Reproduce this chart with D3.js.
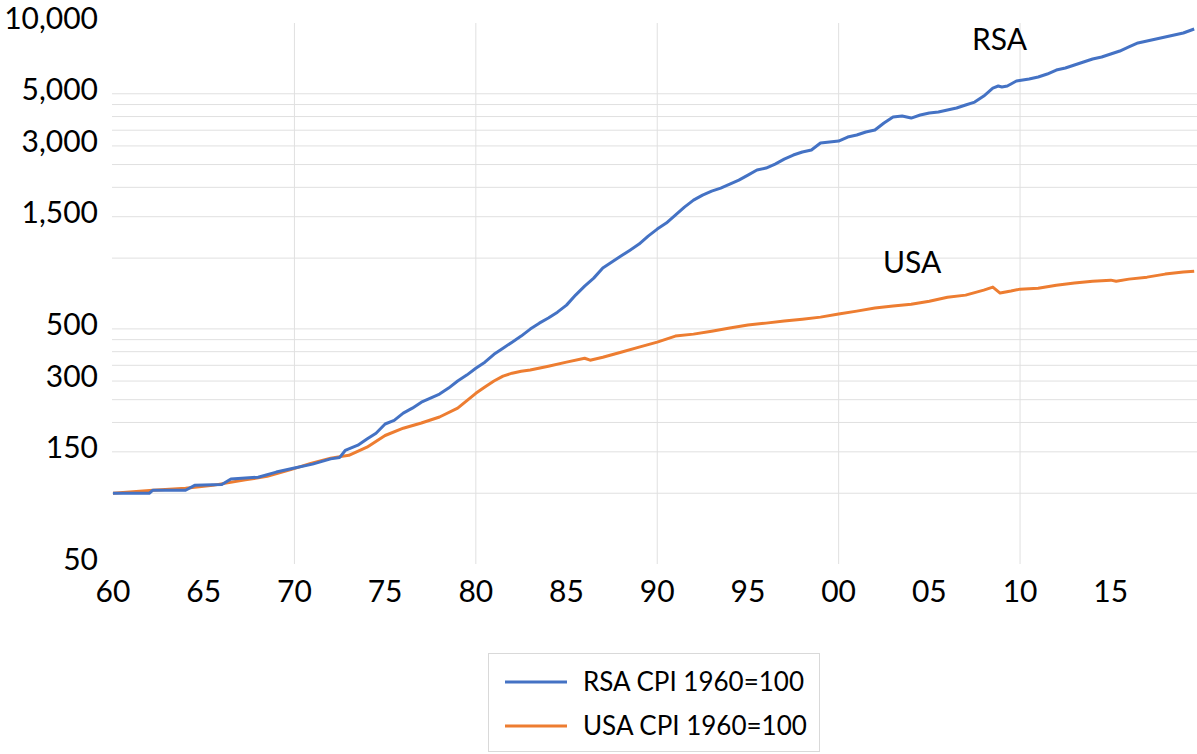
<!DOCTYPE html>
<html>
<head>
<meta charset="utf-8">
<script src="https://d3js.org/d3.v7.min.js"></script>
<style>
  body { margin: 0px; background: #fff; }
  text { font-family: Lato, "Open Sans", sans-serif; fill: #000; }
  .grid line { stroke: #e0e0e0; stroke-width: 1; }
</style>
</head>
<body>
<div id="chart"></div>
<script>
// RSA CPI (1960=100)
const rsaYears = [1960, 1962, 1962.2, 1964, 1964.5, 1966, 1966.5, 1968, 1969, 1970, 1971, 1972, 1972.5, 1972.8,
  1973.5, 1974, 1974.5, 1975, 1975.5, 1976, 1976.5, 1977, 1977.5, 1978, 1978.5, 1979, 1979.5, 1980, 1980.5,
  1981, 1981.5, 1982, 1982.5, 1983, 1983.5, 1984, 1984.5, 1985, 1985.5, 1986, 1986.5, 1987, 1987.5, 1988,
  1988.5, 1989, 1989.5, 1990, 1990.5, 1991, 1991.5, 1992, 1992.5, 1993, 1993.5, 1994, 1994.5, 1995, 1995.5,
  1996, 1996.5, 1997, 1997.5, 1998, 1998.5, 1999, 1999.5, 2000, 2000.5, 2001, 2001.5, 2002, 2002.5, 2003,
  2003.5, 2004, 2004.5, 2005, 2005.5, 2006, 2006.5, 2007, 2007.5, 2008, 2008.5, 2008.8, 2009, 2009.3, 2009.8,
  2010.5, 2011, 2011.5, 2012, 2012.5, 2013, 2013.5, 2014, 2014.5, 2015, 2015.5, 2016, 2016.5, 2017, 2017.5,
  2018, 2018.5, 2019, 2019.6];
const rsaValues = [100, 100, 103, 103, 108, 109, 115, 117, 123, 128, 133, 140, 142, 152,
  160, 170, 180, 197, 204, 219, 230, 244, 254, 264, 280, 300, 318, 340, 361,
  390, 414, 439, 466, 499, 529, 556, 589, 631, 696, 760, 822, 907, 962, 1020,
  1081, 1147, 1241, 1329, 1409, 1524, 1648, 1765, 1854, 1928, 1986, 2065, 2147, 2255, 2369,
  2415, 2512, 2638, 2744, 2826, 2883, 3086, 3116, 3147, 3273, 3338, 3438, 3506, 3754, 3981,
  4020, 3942, 4060, 4140, 4180, 4265, 4350, 4480, 4610, 4892, 5289, 5394, 5342, 5394, 5664,
  5776, 5893, 6067, 6310, 6436, 6628, 6823, 7028, 7168, 7379, 7600, 7906, 8222, 8383, 8550,
  8720, 8892, 9067, 9430];

// USA CPI (1960=100)
const usaYears = [1960, 1962.2, 1964, 1965.5, 1967.3, 1968.5, 1969.8, 1970.9, 1972, 1973, 1974, 1975, 1976,
  1977, 1978, 1979, 1980, 1980.5, 1981, 1981.5, 1982, 1982.5, 1983, 1984, 1985, 1986, 1986.3, 1987, 1988,
  1989, 1990, 1991, 1992, 1993, 1994, 1995, 1996, 1997, 1998, 1999, 2000, 2001, 2002, 2003, 2004, 2005,
  2006, 2007, 2008, 2008.5, 2008.9, 2009.5, 2010, 2011, 2012, 2013, 2014, 2015, 2015.3, 2016, 2017, 2018,
  2019, 2019.6];
const usaValues = [100, 103, 105, 108, 114, 118, 126, 134, 141, 145, 157, 176, 189,
  199, 211, 230, 266, 283, 300, 315, 324, 330, 334, 347, 361, 375, 368, 379, 398,
  418, 439, 466, 475, 489, 504, 519, 529, 540, 550, 561, 578, 595, 613, 625, 637, 656,
  682, 696, 731, 753, 710, 724, 738, 745, 767, 783, 798, 806, 798, 814, 830, 855,
  872, 880];

const yTickValues = [50, 150, 300, 500, 1500, 3000, 5000, 10000];
const yGridValues = [100, 150, 200, 250, 300, 350, 400, 450, 500, 1000, 1500, 2000, 2500, 3000, 3500, 4000, 4500, 5000];
const xTickYears = d3.range(1960, 2016, 5);
const xGridYears = [1970, 1980, 1990, 2000, 2010];

const width = 1197, height = 754;
const svg = d3.select("#chart").append("svg")
  .attr("width", width).attr("height", height);

const x = d3.scaleLinear().domain([1960, 2019.7]).range([113, 1196]);
const y = d3.scaleLog().domain([50, 10000]).range([564, 23]);

// grid
const grid = svg.append("g").attr("class", "grid");
grid.selectAll(".hg").data(yGridValues).enter().append("line")
  .attr("x1", 112).attr("x2", width)
  .attr("y1", d => y(d)).attr("y2", d => y(d));
grid.selectAll(".vg").data(xGridYears).enter().append("line")
  .attr("x1", d => x(d)).attr("x2", d => x(d))
  .attr("y1", y(10000)).attr("y2", y(50));

// y labels
svg.selectAll(".ylab").data(yTickValues).enter().append("text")
  .attr("x", 98).attr("y", d => y(d) - 5).attr("dy", "0.36em")
  .attr("text-anchor", "end").style("font-size", "30px")
  .text(d => d3.format(",")(d));

// x labels
svg.selectAll(".xlab").data(xTickYears).enter().append("text")
  .attr("x", d => x(d)).attr("y", 602)
  .attr("text-anchor", "middle").style("font-size", "30px")
  .text(d => String(d % 100).padStart(2, "0"));

const line = d3.line().x(d => x(d[0])).y(d => y(d[1]));

svg.append("path")
  .datum(usaYears.map((d, i) => [d, usaValues[i]]))
  .attr("fill", "none").attr("stroke", "#ED7D31").attr("stroke-width", 3)
  .attr("stroke-linejoin", "round").attr("d", line);

svg.append("path")
  .datum(rsaYears.map((d, i) => [d, rsaValues[i]]))
  .attr("fill", "none").attr("stroke", "#4472C4").attr("stroke-width", 3)
  .attr("stroke-linejoin", "round").attr("d", line);

// series labels
svg.append("text").attr("x", 972).attr("y", 50).style("font-size", "30px").text("RSA");
svg.append("text").attr("x", 883).attr("y", 273).style("font-size", "30px").text("USA");

// legend
const lg = svg.append("g");
lg.append("rect").attr("x", 488.5).attr("y", 653.5).attr("width", 331).attr("height", 98)
  .attr("fill", "#fff").attr("stroke", "#d9d9d9");
const legendItems = [["RSA CPI 1960=100", "#4472C4"], ["USA CPI 1960=100", "#ED7D31"]];
legendItems.forEach((it, i) => {
  const yy = 682 + i * 44;
  lg.append("line").attr("x1", 505).attr("x2", 567).attr("y1", yy).attr("y2", yy)
    .attr("stroke", it[1]).attr("stroke-width", 3);
  lg.append("text").attr("x", 583).attr("y", yy).attr("dy", "0.36em")
    .style("font-size", "26px").text(it[0]);
});
</script>
</body>
</html>
